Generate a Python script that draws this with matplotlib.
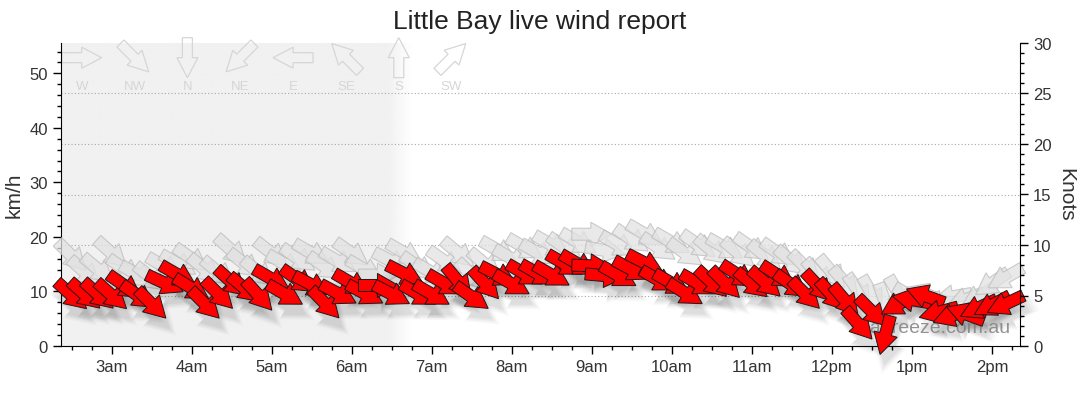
import numpy as np
import matplotlib
matplotlib.use("Agg")
import matplotlib.pyplot as plt
from matplotlib.patches import Polygon
from matplotlib.transforms import Affine2D, ScaledTranslation

plt.rcParams['font.family'] = ['Liberation Sans', 'DejaVu Sans']

KMH_PER_KNOT = 1.852

# observation times, minutes after midnight
times = [150, 160, 170, 180, 190, 200, 210, 220, 230, 240, 250, 260, 270, 280,
         290, 300, 310, 320, 330, 340, 350, 360, 370, 380, 390, 400, 410, 420,
         430, 440, 450, 460, 470, 480, 490, 500, 510, 520, 530, 540, 550, 560,
         570, 580, 590, 600, 610, 620, 630, 640, 650, 660, 670, 680, 690, 700,
         710, 720, 730, 740, 750, 760, 770, 780, 790, 800, 810, 820, 830, 840, 850]

# average wind, km/h and direction it blows from (degrees)
wind_kmh = [9.3, 9.4, 9.4, 9.3, 11.0, 9.2, 7.7, 11.5, 13.0, 10.6, 7.7, 9.5, 11.7, 10.5,
            9.3, 12.3, 9.5, 12.1, 11.2, 7.8, 9.6, 11.5, 9.6, 11.1, 9.5, 13.2, 9.5, 9.5,
            11.4, 11.8, 9.0, 11.4, 13.0, 11.4, 13.2, 13.2, 13.0, 15.0, 15.0, 14.7, 12.9, 12.9,
            14.0, 15.2, 12.1, 11.5, 9.7, 11.4, 11.6, 11.5, 13.0, 11.4, 11.6, 12.9, 11.2, 9.5,
            10.9, 9.3, 8.3, 4.0, 6.3, 2.0, 7.7, 8.5, 9.2, 6.2, 5.6, 5.9, 7.0, 7.5, 7.7]
wind_dir = [312, 312, 312, 312, 305, 305, 315, 295, 300, 302, 315, 315, 312, 310,
            318, 300, 300, 305, 298, 316, 298, 300, 298, 270, 298, 297, 300, 300,
            300, 320, 305, 318, 297, 300, 300, 300, 300, 300, 300, 272, 275, 300,
            298, 297, 300, 300, 302, 300, 313, 315, 303, 310, 312, 303, 305, 315,
            317, 318, 320, 318, 315, 15, 60, 100, 110, 75, 70, 110, 65, 62, 65]

# gusts, km/h and direction from
gust_kmh = [16.5, 13.5, 14.0, 17.0, 14.0, 13.0, 12.5, 14.5, 15.0, 16.0, 14.0, 13.5, 17.5, 15.0,
            13.5, 17.0, 15.0, 16.0, 17.0, 14.5, 15.5, 17.0, 14.0, 13.0, 15.5, 17.0, 14.5, 13.5,
            15.5, 17.0, 13.0, 15.0, 17.5, 16.0, 18.0, 17.0, 18.5, 18.0, 19.0, 20.5, 17.5, 18.5,
            19.5, 20.5, 18.0, 19.0, 17.0, 18.5, 17.5, 18.0, 17.0, 18.0, 16.5, 17.0, 15.5, 14.5,
            13.0, 13.5, 11.5, 10.0, 9.5, 8.0, 9.5, 9.0, 9.5, 8.0, 9.0, 8.5, 9.0, 11.5, 12.5]
gust_dir = [315, 312, 310, 312, 305, 300, 308, 300, 300, 305, 310, 310, 312, 308,
            310, 308, 300, 305, 300, 305, 300, 305, 300, 270, 298, 300, 305, 300,
            305, 310, 315, 310, 300, 300, 300, 300, 300, 305, 300, 270, 280, 300,
            305, 300, 305, 300, 305, 305, 310, 300, 310, 305, 310, 305, 310, 315,
            318, 320, 320, 325, 330, 340, 330, 300, 110, 90, 80, 70, 60, 55, 60]

legend_names = ['W', 'NW', 'N', 'NE', 'E', 'SE', 'S', 'SW']
legend_deg = [270, 315, 0, 45, 90, 135, 180, 225]

hour_ticks = [3, 4, 5, 6, 7, 8, 9, 10, 11, 12, 13, 14]
hour_labels = ['3am', '4am', '5am', '6am', '7am', '8am', '9am', '10am', '11am',
               '12pm', '1pm', '2pm']

fig = plt.figure(figsize=(10.8, 4.14), dpi=100)
ax = fig.add_axes([61 / 1080, 1 - 347 / 414, 959 / 1080, 303 / 414])

x0, x1 = 142 / 60, 861 / 60
ymax = 30 * KMH_PER_KNOT

# arrow outlines in pixels, centred, pointing along +x
KEY_ARROW = np.array([[-20, -5], [0, -5], [0, -10.5], [20, 0], [0, 10.5], [0, 5], [-20, 5]]) / 100.0
DATA_ARROW = np.array([[-20, -6], [-1, -6], [-1, -12], [20, 0], [-1, 12], [-1, 6], [-20, 6]]) / 100.0


def add_arrow(x, y, deg_from, base, shape=DATA_ARROW, dx=0.0, dy=0.0, scale=1.0, **kw):
    ang = -90 - deg_from
    tr = (Affine2D().scale(scale).rotate_deg(ang).translate(dx / 100, dy / 100)
          + fig.dpi_scale_trans + ScaledTranslation(x, y, base))
    p = Polygon(shape, closed=True, transform=tr, clip_on=False, **kw)
    ax.add_artist(p)
    return p


# night shading with a soft edge at dawn
grad_x = np.linspace(x0, 6.8, 400)
alpha = np.clip((6.75 - grad_x) / 0.3, 0, 1)
img = np.ones((1, len(grad_x), 4))
img[..., :3] = 241 / 255
img[0, :, 3] = alpha
ax.imshow(img, extent=[x0, 6.8, 0, ymax], aspect='auto', zorder=0, interpolation='bilinear')

# dotted grid at knot steps
for k in [5, 10, 15, 20, 25]:
    ax.axhline(k * KMH_PER_KNOT, color='#a8a8a8', lw=0.8, ls=(0, (1, 2)), zorder=1)

# direction key
for i, (name, deg) in enumerate(zip(legend_names, legend_deg)):
    xf = 0.0216 + i * 0.0551
    add_arrow(xf, 0.9515, deg, ax.transAxes, shape=KEY_ARROW, facecolor='none',
              edgecolor='#d6d6d6', lw=0.9, zorder=2)
    ax.text(xf, 0.857, name, transform=ax.transAxes, ha='center', va='center',
            fontsize=9.5, color='#d6d6d6', zorder=2)

th = [t / 60 for t in times]

# gust arrows
for x, v, d in zip(th, gust_kmh, gust_dir):
    add_arrow(x, v, d, ax.transData, facecolor='#e2e2e2', edgecolor='#bcbcbc', lw=0.8,
              alpha=0.75, zorder=3)

# soft shadows under the average arrows
for x, v, d in zip(th, wind_kmh, wind_dir):
    for s, a in [(1.45, 0.025), (1.3, 0.03), (1.15, 0.035), (1.0, 0.04)]:
        add_arrow(x, v, d, ax.transData, dx=4, dy=-11, scale=s, facecolor='black',
                  edgecolor='none', alpha=a, zorder=4)

ax.text(0.99, 0.06, 'seabreeze.com.au', transform=ax.transAxes, ha='right', va='center',
        fontsize=14, color='#808080', alpha=0.85, zorder=4.5)

# average wind arrows
for x, v, d in zip(th, wind_kmh, wind_dir):
    add_arrow(x, v, d, ax.transData, facecolor='#ff0000', edgecolor='#1a1a1a', lw=0.7, zorder=5)

ax.set_xlim(x0, x1)
ax.set_ylim(0, ymax)
ax.set_xticks(hour_ticks)
ax.set_xticklabels(hour_labels)
ax.set_xticks(np.arange(2.5, 14.5, 0.25), minor=True)
ax.set_yticks(np.arange(0, 51, 10))
ax.set_yticks(np.arange(0, 56, 2), minor=True)
ax.tick_params(axis='both', which='major', labelsize=12, labelcolor='#333333', length=6, width=1)
ax.tick_params(axis='both', which='minor', length=3, width=1)
ax.spines['top'].set_visible(False)
ax.spines['right'].set_visible(False)
ax.set_xlim(x0, x1)

ax2 = ax.twinx()
ax2.set_ylim(0, 30)
ax2.set_yticks(np.arange(0, 31, 5))
ax2.set_yticks(np.arange(0, 31, 1), minor=True)
ax2.tick_params(axis='y', which='major', labelsize=12, labelcolor='#333333', length=6, width=1)
ax2.tick_params(axis='y', which='minor', length=3, width=1)
for s in ['top', 'left', 'bottom']:
    ax2.spines[s].set_visible(False)

fig.text(540 / 1080, 1 - 22 / 414, 'Little Bay live wind report', ha='center', va='center',
         fontsize=19, color='#222222')
fig.text(14 / 1080, 1 - 195 / 414, 'km/h', rotation=90, ha='center', va='center',
         fontsize=15, color='#333333')
fig.text(1066 / 1080, 1 - 195 / 414, 'Knots', rotation=270, ha='center', va='center',
         fontsize=15, color='#333333')

fig.savefig('out.png', dpi=100)
